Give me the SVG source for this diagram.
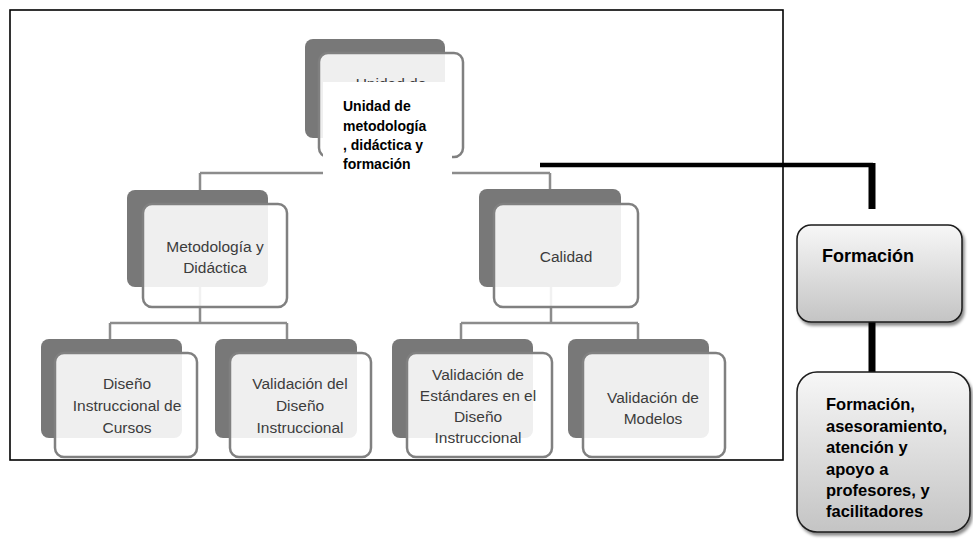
<svg xmlns="http://www.w3.org/2000/svg" width="973" height="542" viewBox="0 0 973 542">
  <defs>
    <style>
      .back { fill: #787878; }
      .front { fill: #ffffff; fill-opacity: 0.88; stroke: #808080; stroke-width: 2.5; }
      .link { fill: none; stroke: #8c8c8c; stroke-width: 2.5; }
      .lbl { font-family: "Liberation Sans", Arial, sans-serif; font-size: 15.5px; fill: #3c3c3c; text-anchor: middle; }
      .bold { font-family: "Liberation Sans", Arial, sans-serif; font-weight: bold; fill: #000000; }
      .thick { fill: none; stroke: #000000; }
      .side { stroke: #1a1a1a; stroke-width: 1.5; filter: url(#shadow); }
    </style>
    <linearGradient id="boxFill" x1="0" y1="0" x2="0" y2="1">
      <stop offset="0" stop-color="#f7f7f7"/>
      <stop offset="1" stop-color="#c4c4c4"/>
    </linearGradient>
    <filter id="shadow" x="-10%" y="-10%" width="125%" height="130%">
      <feDropShadow dx="2" dy="3" stdDeviation="1.5" flood-color="#000000" flood-opacity="0.45"/>
    </filter>
  </defs>

  <rect width="973" height="542" fill="#ffffff"/>

  <!-- outer frame -->
  <rect x="10" y="10" width="773" height="450" fill="none" stroke="#000000" stroke-width="1.6"/>

  <!-- tree connectors -->
  <g id="connectors">
    <path class="link" d="M200,173 H550 M200,173 V190 M550,173 V189"/>
    <path class="link" d="M200,287 V323 M110,323 H287 M110,323 V339 M287,323 V339"/>
    <path class="link" d="M551,287 V323 M461,323 H638 M461,323 V339 M638,323 V339"/>
  </g>

  <!-- top node -->
  <g id="node-unidad">
    <rect class="back" x="305" y="39" width="140" height="99" rx="8"/>
    <rect class="front" x="319" y="53" width="144" height="104" rx="9"/>
    <text class="lbl" x="391" y="89">Unidad de</text>
    <rect x="323" y="82" width="129" height="95" fill="#ffffff"/>
    <text class="bold" font-size="14" x="343">
      <tspan x="343" y="111">Unidad de</tspan>
      <tspan x="343" y="131">metodología</tspan>
      <tspan x="343" y="150">, didáctica y</tspan>
      <tspan x="343" y="169">formación</tspan>
    </text>
  </g>

  <g id="node-metodologia">
    <rect class="back" x="127" y="190" width="141" height="97" rx="8"/>
    <rect class="front" x="143" y="204" width="144" height="103" rx="9"/>
    <text class="lbl"><tspan x="215" y="252">Metodología y</tspan><tspan x="215" y="273">Didáctica</tspan></text>
  </g>

  <g id="node-calidad">
    <rect class="back" x="479" y="189" width="142" height="98" rx="8"/>
    <rect class="front" x="494" y="204" width="144" height="103" rx="9"/>
    <text class="lbl" x="566" y="262">Calidad</text>
  </g>

  <g id="node-diseno-cursos">
    <rect class="back" x="41" y="339" width="141" height="99" rx="8"/>
    <rect class="front" x="55" y="353" width="142" height="104" rx="9"/>
    <text class="lbl"><tspan x="127" y="389">Diseño</tspan><tspan x="127" y="411">Instruccional de</tspan><tspan x="127" y="433">Cursos</tspan></text>
  </g>

  <g id="node-validacion-diseno">
    <rect class="back" x="215" y="339" width="142" height="99" rx="8"/>
    <rect class="front" x="230" y="353" width="141" height="104" rx="9"/>
    <text class="lbl"><tspan x="300" y="389">Validación del</tspan><tspan x="300" y="411">Diseño</tspan><tspan x="300" y="433">Instruccional</tspan></text>
  </g>

  <g id="node-validacion-estandares">
    <rect class="back" x="392" y="339" width="141" height="99" rx="8"/>
    <rect class="front" x="407" y="353" width="145" height="104" rx="9"/>
    <text class="lbl"><tspan x="478" y="380">Validación de</tspan><tspan x="478" y="401">Estándares en el</tspan><tspan x="478" y="422">Diseño</tspan><tspan x="478" y="443">Instruccional</tspan></text>
  </g>

  <g id="node-validacion-modelos">
    <rect class="back" x="568" y="339" width="141" height="99" rx="8"/>
    <rect class="front" x="583" y="353" width="142" height="104" rx="9"/>
    <text class="lbl"><tspan x="653" y="403">Validación de</tspan><tspan x="653" y="424">Modelos</tspan></text>
  </g>

  <!-- side branch connectors -->
  <g id="side-connectors">
    <path class="thick" stroke-width="4.5" d="M540,165 H873"/>
    <path class="thick" stroke-width="7" d="M872,163 V209"/>
    <path class="thick" stroke-width="7" d="M872,322 V373"/>
  </g>

  <g id="node-formacion">
    <rect class="side" x="797" y="225" width="165" height="97" rx="14" fill="url(#boxFill)"/>
    <text class="bold" font-size="18" x="822" y="262">Formación</text>
  </g>

  <g id="node-apoyo">
    <rect class="side" x="797" y="372" width="173" height="160" rx="20" fill="url(#boxFill)"/>
    <text class="bold" font-size="16.5">
      <tspan x="826" y="410">Formación,</tspan>
      <tspan x="826" y="432">asesoramiento,</tspan>
      <tspan x="826" y="453">atención y</tspan>
      <tspan x="826" y="475">apoyo a</tspan>
      <tspan x="826" y="496">profesores,  y</tspan>
      <tspan x="826" y="517">facilitadores</tspan>
    </text>
  </g>
</svg>
